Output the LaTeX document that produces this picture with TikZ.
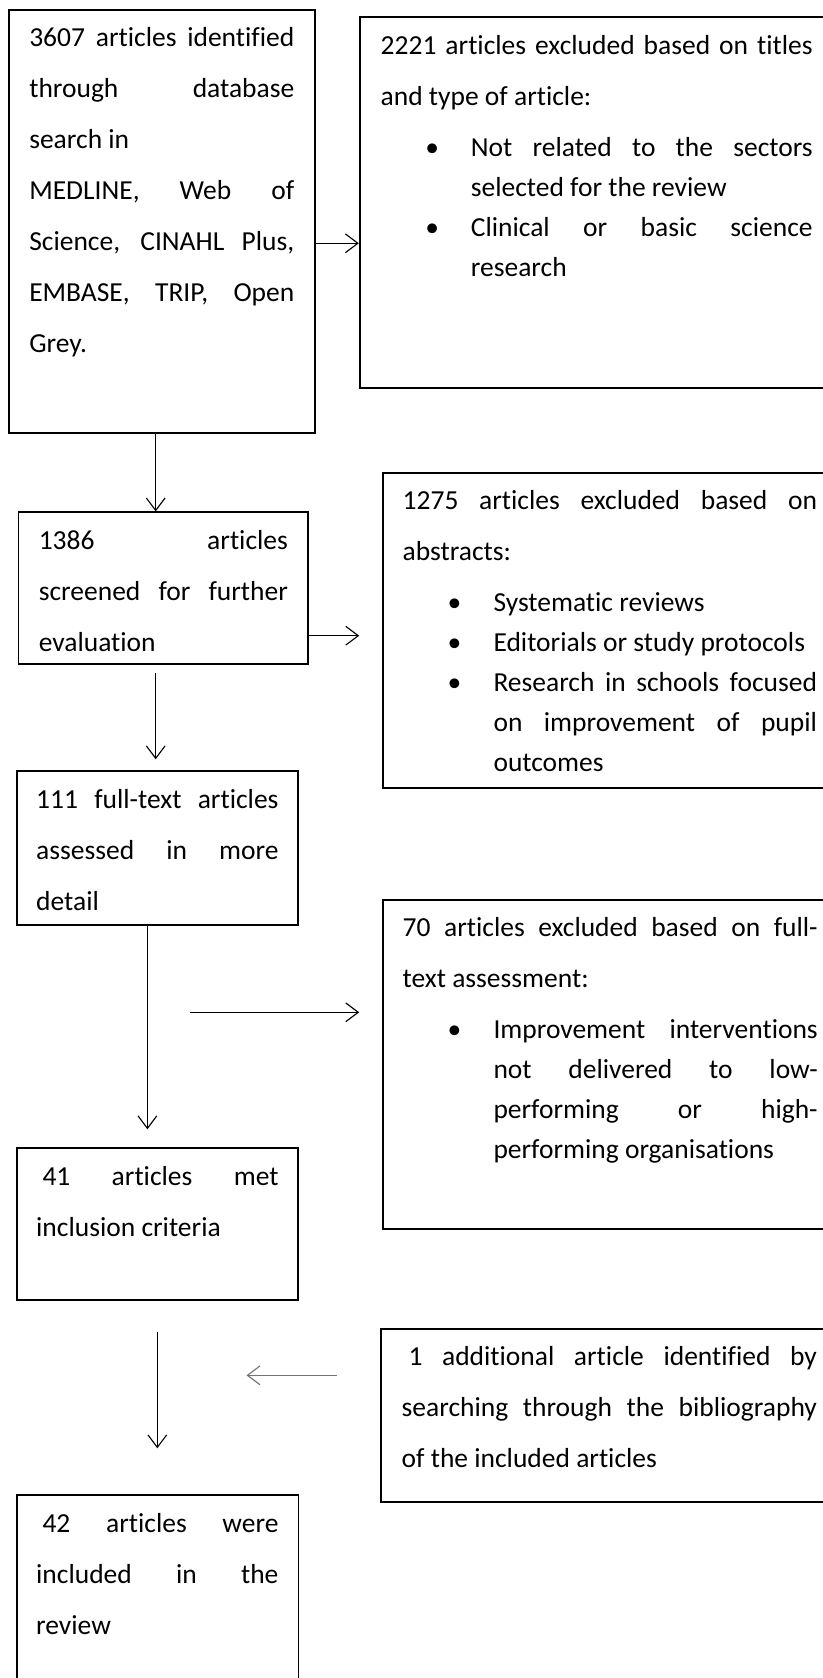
\documentclass[tikz,border=0pt]{standalone}
\usepackage{fontspec}
\setmainfont[Ligatures=NoCommon]{Carlito}
\usetikzlibrary{fit,arrows.meta}
\newdimen\pxu \pxu=0.4pt
\newdimen\tw
\newcommand\rs{\spaceskip=0pt\xspaceskip=0pt\relax}
\newcommand\jl[1]{\leavevmode\hbox to \tw{\rs #1}}
\newcommand\bj[3]{\leavevmode\hbox to \tw{\rs\hbox to #2\pxu{\hspace*{#1\pxu}\hbox to 0pt{\hss\textbullet\hss}\hss}#3}}
\newcommand\bn[3]{\leavevmode\hbox to \tw{\rs\hbox to #2\pxu{\hspace*{#1\pxu}\hbox to 0pt{\hss\textbullet\hss}\hss}#3\hfil}}
\newcommand\cj[2]{\leavevmode\hbox to \tw{\rs\hspace*{#1\pxu}#2}}
\newcommand\cn[2]{\leavevmode\hbox to \tw{\rs\hspace*{#1\pxu}#2\hfil}}
\newcommand\nl[1]{\leavevmode\hbox to \tw{\rs #1\hfil}}
\tikzset{
  boxst/.style={draw, line width=0.7pt, inner sep=0pt},
  txt/.style={anchor=base west, inner sep=0pt, align=left, text width=#1, execute at begin node={\global\tw=#1\relax}, font=\fontsize{11pt}{20.4pt}\selectfont},
  arr/.style={line width=0.45pt, -{Straight Barb[length=5pt,width=7.5pt]}},
}
\begin{document}
\begin{tikzpicture}[x=0.4pt,y=-0.4pt]
\useasboundingbox (0,0) rectangle (822,1678);
% boxes
\node[boxst, fit={(8.9,10) (315,433.3)}] (b1) {};
\node[boxst, fit={(359.7,17.3) (826,387.7)}] (b2) {};
\node[boxst, fit={(18.4,512.3) (307.8,664.3)}] (b3) {};
\node[boxst, fit={(382.8,472.7) (826,788.3)}] (b4) {};
\node[boxst, fit={(16.8,771) (297.8,925)}] (b5) {};
\node[boxst, fit={(382.8,900) (826,1229.3)}] (b6) {};
\node[boxst, fit={(16.8,1148.3) (297.8,1300)}] (b7) {};
\node[boxst, fit={(381.2,1328.7) (826,1501.7)}] (b8) {};
\node[boxst, fit={(16.8,1495) (298.4,1690)}] (b9) {};
% texts
\node[txt=106pt] (t1) at (28.8,46.7) {\jl{3607 articles identified}\\ \jl{through database}\\ \nl{search in}\\ \jl{MEDLINE, Web of}\\ \jl{Science, CINAHL Plus,}\\ \jl{EMBASE, TRIP, Open}\\ \nl{Grey.}};
\node[txt=172.8pt] (t2) at (380.2,55) {\jl{2221 articles excluded based on titles}\\ \nl{and type of article:}\\ \bj{51.4}{90.2}{Not related to the sectors}\\[-4.4pt] \cn{90.2}{selected for the review}\\[-4.4pt] \bj{51.4}{90.2}{Clinical or basic science}\\[-4.4pt] \cn{90.2}{research}};
\node[txt=99.64pt] (t3) at (38.3,549.3) {\jl{1386 articles}\\ \jl{screened for further}\\ \nl{evaluation}};
\node[txt=165.72pt] (t4) at (402.2,509.3) {\jl{1275 articles excluded based on}\\ \nl{abstracts:}\\ \bn{51.8}{90.8}{Systematic reviews}\\[-4.4pt] \bn{51.8}{90.8}{Editorials or study protocols}\\[-4.4pt] \bj{51.8}{90.8}{Research in schools focused}\\[-4.4pt] \cj{90.8}{on improvement of pupil}\\[-4.4pt] \cn{90.8}{outcomes}};
\node[txt=96.92pt] (t5) at (35.7,808.3) {\jl{111 full-text articles}\\ \jl{assessed in more}\\ \nl{detail}};
\node[txt=166pt] (t6) at (402.2,936) {\jl{70 articles excluded based on full-}\\ \nl{text assessment:}\\ \bj{51.8}{90.8}{Improvement interventions}\\[-4.4pt] \cj{90.8}{not delivered to low-}\\[-4.4pt] \cj{90.8}{performing or high-}\\[-4.4pt] \cn{90.8}{performing organisations}};
\node[txt=96.92pt] (t7) at (35.7,1185) {\jl{\hspace*{6.3\pxu}41 articles met}\\ \nl{inclusion criteria}};
\node[txt=166.12pt] (t8) at (401.2,1365) {\jl{\hspace*{6.8\pxu}1 additional article identified by}\\ \jl{searching through the bibliography}\\ \nl{of the included articles}};
\node[txt=96.92pt] (t9) at (35.7,1532.3) {\jl{\hspace*{6.3\pxu}42 articles were}\\ \jl{included in the}\\ \nl{review}};
% connector helpers
\coordinate (a1) at (0,243.3);
\coordinate (c1) at (155.7,0);
\coordinate (a2) at (0,635.7);
\coordinate (e2) at (359.2,635.7);
\coordinate (s4) at (155.7,673.3);
\coordinate (e4) at (155.7,759.3);
\coordinate (c5) at (147.4,0);
\coordinate (e5) at (147.4,1129.3);
\coordinate (s6) at (189.8,1012.3);
\coordinate (e6) at (359.2,1012.3);
\coordinate (s7) at (157.3,1331.7);
\coordinate (e7) at (157.3,1448.3);
\coordinate (s8) at (336.6,1375.3);
\coordinate (e8) at (246.5,1375.3);
% connectors
\draw[arr] (b1.east |- a1) -- (b2.west |- a1);
\draw[arr] (b1.south -| c1) -- (b3.north -| c1);
\draw[arr] (b3.east |- a2) -- (e2);
\draw[arr] (s4) -- (e4);
\draw[arr] (b5.south -| c5) -- (e5);
\draw[arr] (s6) -- (e6);
\draw[arr] (s7) -- (e7);
\draw[arr, draw=black!55] (s8) -- (e8);
\end{tikzpicture}
\end{document}
